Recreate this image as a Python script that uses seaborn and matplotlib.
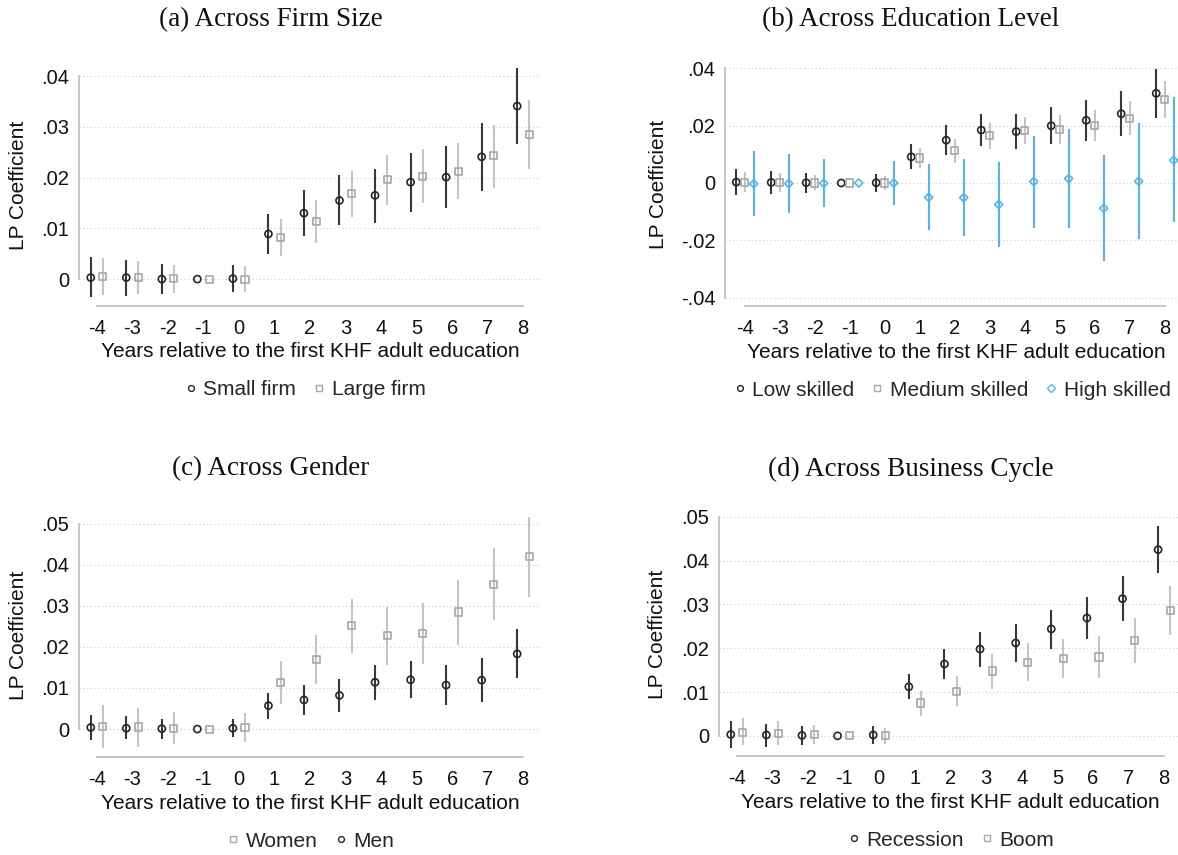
import matplotlib
matplotlib.use("Agg")
import matplotlib.pyplot as plt
from matplotlib.lines import Line2D
from matplotlib.ticker import FuncFormatter, FixedLocator
import pandas as pd
import seaborn as sns

# ---------------------------------------------------------------------------
# Event-study estimates (LP coefficients with 95% confidence bands)
# ---------------------------------------------------------------------------
event_time = [-4, -3, -2, -1, 0, 1, 2, 3, 4, 5, 6, 7, 8]

# (a) firm size
small_coef = [0.0003, 0.0003, 0.0000, 0.0, 0.0001, 0.0089, 0.0130, 0.0155, 0.0165, 0.0191, 0.0201, 0.0241, 0.0341]
small_lo = [-0.0036, -0.0033, -0.0029, 0.0, -0.0026, 0.0049, 0.0084, 0.0106, 0.0111, 0.0133, 0.0140, 0.0174, 0.0266]
small_hi = [0.0043, 0.0038, 0.0030, 0.0, 0.0028, 0.0129, 0.0176, 0.0206, 0.0218, 0.0248, 0.0263, 0.0308, 0.0416]
large_coef = [0.0005, 0.0003, 0.0001, 0.0, 0.0000, 0.0082, 0.0113, 0.0169, 0.0196, 0.0203, 0.0213, 0.0243, 0.0285]
large_lo = [-0.0031, -0.0030, -0.0027, 0.0, -0.0025, 0.0046, 0.0072, 0.0123, 0.0147, 0.0151, 0.0157, 0.0180, 0.0217]
large_hi = [0.0041, 0.0035, 0.0028, 0.0, 0.0025, 0.0119, 0.0155, 0.0214, 0.0245, 0.0256, 0.0269, 0.0304, 0.0354]

# (b) education level
low_coef = [0.0003, 0.0002, 0.0001, 0.0, 0.0001, 0.0091, 0.0149, 0.0184, 0.0179, 0.0199, 0.0218, 0.0241, 0.0312]
low_lo = [-0.0041, -0.0037, -0.0034, 0.0, -0.0030, 0.0047, 0.0097, 0.0127, 0.0119, 0.0134, 0.0146, 0.0165, 0.0227]
low_hi = [0.0047, 0.0042, 0.0035, 0.0, 0.0033, 0.0136, 0.0203, 0.0240, 0.0240, 0.0264, 0.0288, 0.0319, 0.0398]
med_coef = [0.0002, 0.0001, 0.0000, 0.0, 0.0000, 0.0087, 0.0112, 0.0164, 0.0183, 0.0185, 0.0199, 0.0226, 0.0290]
med_lo = [-0.0033, -0.0031, -0.0026, 0.0, -0.0024, 0.0051, 0.0071, 0.0120, 0.0135, 0.0134, 0.0146, 0.0166, 0.0225]
med_hi = [0.0037, 0.0034, 0.0027, 0.0, 0.0024, 0.0122, 0.0153, 0.0208, 0.0229, 0.0235, 0.0254, 0.0285, 0.0355]
high_coef = [-0.0003, -0.0002, -0.0001, 0.0, 0.0000, -0.0050, -0.0051, -0.0075, 0.0005, 0.0015, -0.0088, 0.0006, 0.0079]
high_lo = [-0.0116, -0.0105, -0.0084, 0.0, -0.0077, -0.0165, -0.0185, -0.0222, -0.0155, -0.0156, -0.0272, -0.0196, -0.0136]
high_hi = [0.0111, 0.0100, 0.0083, 0.0, 0.0077, 0.0065, 0.0084, 0.0072, 0.0164, 0.0187, 0.0097, 0.0208, 0.0298]

# (c) gender
women_coef = [0.0006, 0.0005, 0.0002, 0.0, 0.0003, 0.0113, 0.0170, 0.0252, 0.0227, 0.0233, 0.0285, 0.0353, 0.0419]
women_lo = [-0.0045, -0.0043, -0.0037, 0.0, -0.0032, 0.0060, 0.0109, 0.0186, 0.0157, 0.0158, 0.0205, 0.0265, 0.0321]
women_hi = [0.0058, 0.0051, 0.0041, 0.0, 0.0038, 0.0166, 0.0230, 0.0317, 0.0298, 0.0308, 0.0364, 0.0441, 0.0516]
men_coef = [0.0004, 0.0002, 0.0001, 0.0, 0.0002, 0.0057, 0.0071, 0.0082, 0.0114, 0.0120, 0.0107, 0.0119, 0.0183]
men_lo = [-0.0027, -0.0025, -0.0023, 0.0, -0.0019, 0.0025, 0.0034, 0.0042, 0.0071, 0.0075, 0.0058, 0.0067, 0.0124]
men_hi = [0.0035, 0.0031, 0.0024, 0.0, 0.0024, 0.0088, 0.0107, 0.0122, 0.0156, 0.0166, 0.0156, 0.0172, 0.0244]

# (d) business cycle
rec_coef = [0.0003, 0.0002, 0.0001, 0.0, 0.0002, 0.0112, 0.0164, 0.0198, 0.0212, 0.0244, 0.0269, 0.0313, 0.0425]
rec_lo = [-0.0027, -0.0025, -0.0021, 0.0, -0.0018, 0.0083, 0.0129, 0.0158, 0.0168, 0.0199, 0.0221, 0.0262, 0.0371]
rec_hi = [0.0033, 0.0028, 0.0023, 0.0, 0.0022, 0.0141, 0.0199, 0.0237, 0.0255, 0.0288, 0.0316, 0.0364, 0.0480]
boom_coef = [0.0008, 0.0006, 0.0003, 0.0, 0.0000, 0.0075, 0.0102, 0.0148, 0.0168, 0.0176, 0.0180, 0.0217, 0.0286]
boom_lo = [-0.0022, -0.0021, -0.0018, 0.0, -0.0019, 0.0045, 0.0067, 0.0108, 0.0126, 0.0131, 0.0133, 0.0166, 0.0231]
boom_hi = [0.0040, 0.0033, 0.0024, 0.0, 0.0018, 0.0103, 0.0137, 0.0186, 0.0212, 0.0221, 0.0228, 0.0268, 0.0341]

# ---------------------------------------------------------------------------
# Styling
# ---------------------------------------------------------------------------
sns.set_theme(style="white")
plt.rcParams["font.family"] = ["Liberation Sans", "DejaVu Sans"]
plt.rcParams["axes.unicode_minus"] = False

DARK = "#262626"
DARK_LINE = "#383838"
GREY = "#a6a6a6"
GREY_LINE = "#c4c4c4"
BLUE = "#55b4ec"
AXIS_GREY = "#c2c2c2"

STYLE = {
    "circle": dict(marker="o", edge=DARK, line=DARK_LINE, s=26),
    "square": dict(marker="s", edge=GREY, line=GREY_LINE, s=26),
    "diamond": dict(marker="D", edge=BLUE, line=BLUE, s=17),
}

W, H = 1178, 855
fig = plt.figure(figsize=(W / 100, H / 100), dpi=100)
fig.patch.set_facecolor("white")


def px_axes(left, top, right, bottom):
    return fig.add_axes([left / W, 1 - bottom / H, (right - left) / W, (bottom - top) / H])


def fmt_tick(v, _pos=None):
    if abs(v) < 1e-12:
        return "0"
    s = f"{v:.2f}"
    return s.replace("0.", ".")


def draw_panel(ax, series, yticks, ylim, xlim, title, title_xy, legend_x=0.5):
    frames = []
    for name, coef, lo, hi, offset, kind in series:
        frames.append(pd.DataFrame({
            "t": event_time, "coef": coef, "lo": lo, "hi": hi,
            "group": name, "kind": kind,
            "xpos": [t + offset for t in event_time],
        }))
    df = pd.concat(frames, ignore_index=True)

    for name, kind in [(s[0], s[5]) for s in series]:
        sub = df[df["group"] == name]
        st = STYLE[kind]
        ax.vlines(sub["xpos"], sub["lo"], sub["hi"], colors=st["line"],
                  linewidth=1.5, zorder=2)
        sns.scatterplot(data=sub, x="xpos", y="coef", ax=ax, marker=st["marker"],
                        s=st["s"], facecolor="none", edgecolor=st["edge"],
                        linewidth=1.2, zorder=3, legend=False)

    ax.set_xlim(*xlim)
    ax.set_ylim(*ylim)
    ax.xaxis.set_major_locator(FixedLocator(event_time))
    ax.yaxis.set_major_locator(FixedLocator(yticks))
    ax.yaxis.set_major_formatter(FuncFormatter(fmt_tick))
    ax.grid(axis="y", color="#d2d2d2", linestyle=(0, (1, 2)), linewidth=0.9)
    ax.grid(axis="x", visible=False)
    ax.set_axisbelow(True)

    for side in ["top", "right"]:
        ax.spines[side].set_visible(False)
    for side in ["left", "bottom"]:
        ax.spines[side].set_color(AXIS_GREY)
        ax.spines[side].set_linewidth(1.3)
    ax.spines["left"].set_bounds(min(yticks), max(yticks))
    ax.spines["bottom"].set_bounds(min(event_time), max(event_time))
    ax.tick_params(axis="both", which="major", direction="out", length=4,
                   width=1.1, color=AXIS_GREY, labelsize=14.5, labelcolor="#111111")
    ax.tick_params(axis="x", pad=5)
    ax.tick_params(axis="y", pad=3)

    ax.set_xlabel("Years relative to the first KHF adult education", fontsize=15,
                  color="#111111")
    ax.set_ylabel("LP Coefficient", fontsize=15, color="#111111")
    ax.xaxis.set_label_coords(0.5, -0.19)
    ax.xaxis.label.set_va("center")
    ax.yaxis.label.set_va("center")

    handles = []
    labels = []
    for name, coef, lo, hi, offset, kind in series:
        st = STYLE[kind]
        handles.append(Line2D([], [], linestyle="none", marker=st["marker"],
                              markerfacecolor="none", markeredgecolor=st["edge"],
                              markersize=4.2 if kind != "diamond" else 3.6,
                              markeredgewidth=1.0))
        labels.append(name)
    ax.legend(handles, labels, loc="center", bbox_to_anchor=(legend_x, -0.345),
              ncol=len(series), frameon=False, fontsize=15, handletextpad=0.25,
              columnspacing=0.75, handlelength=0.7, borderaxespad=0)

    fig.text(title_xy[0] / W, 1 - title_xy[1] / H, title, ha="center", va="center",
             fontsize=19.5, family=["Liberation Serif", "DejaVu Serif"], color="#111111")


# (a) firm size
ax_a = px_axes(79, 64, 541, 306)
draw_panel(ax_a,
           [("Small firm", small_coef, small_lo, small_hi, -0.17, "circle"),
            ("Large firm", large_coef, large_lo, large_hi, 0.17, "square")],
           [0, 0.01, 0.02, 0.03, 0.04], (-0.0053, 0.0424), (-4.5, 8.5),
           "(a) Across Firm Size", (271, 20), legend_x=0.488)
ax_a.yaxis.set_label_coords(-0.132, 0.5)

# (b) education level
ax_b = px_axes(725, 62, 1187, 306)
draw_panel(ax_b,
           [("Low skilled", low_coef, low_lo, low_hi, -0.25, "circle"),
            ("Medium skilled", med_coef, med_lo, med_hi, 0.0, "square"),
            ("High skilled", high_coef, high_lo, high_hi, 0.25, "diamond")],
           [-0.04, -0.02, 0, 0.02, 0.04], (-0.0428, 0.0421), (-4.57, 8.63),
           "(b) Across Education Level", (911, 20), legend_x=0.49)
ax_b.yaxis.set_label_coords(-0.145, 0.5)

# (c) gender
ax_c = px_axes(79, 513, 541, 757)
draw_panel(ax_c,
           [("Women", women_coef, women_lo, women_hi, 0.17, "square"),
            ("Men", men_coef, men_lo, men_hi, -0.17, "circle")],
           [0, 0.01, 0.02, 0.03, 0.04, 0.05], (-0.0068, 0.0526), (-4.5, 8.5),
           "(c) Across Gender", (271, 469))
ax_c.yaxis.set_label_coords(-0.132, 0.5)

# (d) business cycle
ax_d = px_axes(719, 512, 1182, 756)
draw_panel(ax_d,
           [("Recession", rec_coef, rec_lo, rec_hi, -0.17, "circle"),
            ("Boom", boom_coef, boom_lo, boom_hi, 0.17, "square")],
           [0, 0.01, 0.02, 0.03, 0.04, 0.05], (-0.0046, 0.0511), (-4.5, 8.5),
           "(d) Across Business Cycle", (911, 469))
ax_d.yaxis.set_label_coords(-0.132, 0.5)

fig.savefig("out.png", dpi=100, facecolor="white")
